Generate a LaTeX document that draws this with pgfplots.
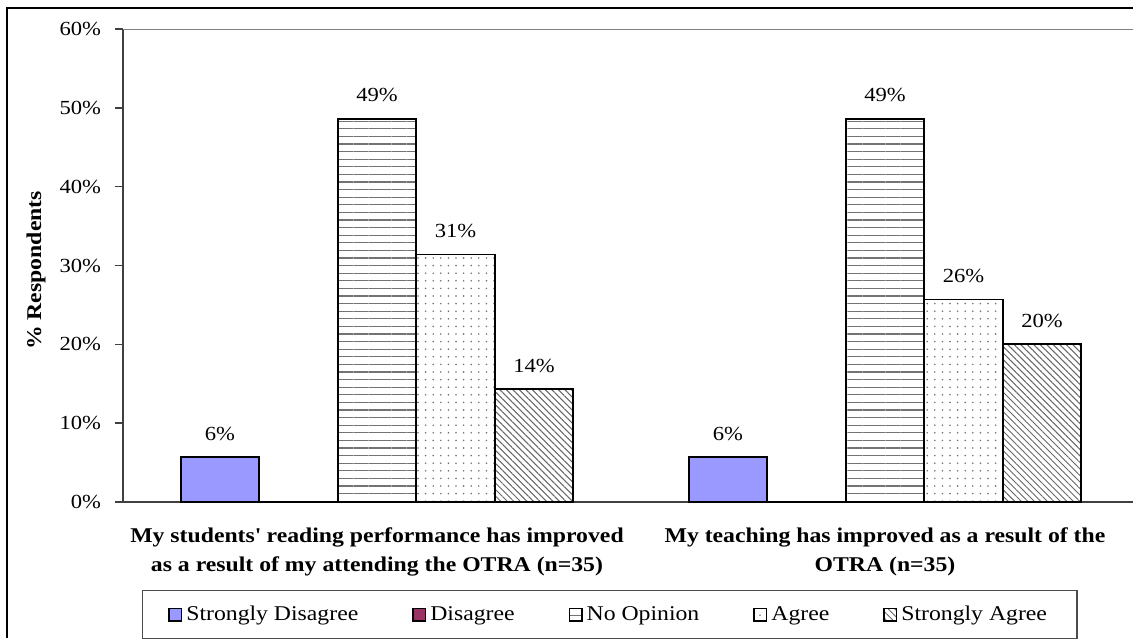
\documentclass[border=0pt]{standalone}
\usepackage{fontspec}
\setmainfont{Liberation Serif}[FakeStretch=1.13]
\usepackage{pgfplots}
\usepackage{pgfplotstable}
\pgfplotsset{compat=1.18}
\usetikzlibrary{patterns,patterns.meta}

\definecolor{sdblue}{HTML}{9999FF}
\definecolor{dmaroon}{HTML}{993366}

% survey answers, % of respondents (n=35)
\pgfplotstableread{
cat SD  D  NO   A    SA
0   5.7 0  48.6 31.4 14.3
1   5.7 0  48.6 25.7 20.0
}\resp

\begin{document}
\begin{tikzpicture}
\begin{axis}[
  at={(0pt,0pt)}, anchor=south west,
  scale only axis, width=508pt, height=236.5pt,
  ybar=0pt, bar width=39.25pt,
  xmin=-0.5, xmax=1.5, ymin=0, ymax=60,
  axis x line*=bottom, axis y line*=left,
  axis line style={draw=black!75, line width=0.8pt},
  tick align=outside, major tick length=4pt,
  tick style={draw=black!75, line width=0.8pt},
  xtick={0,1}, xtick style={draw=none},
  xticklabels={{My students\textquotesingle{} reading performance has improved\\as a result of my attending the OTRA (n=35)},
               {My teaching has improved as a result of the\\OTRA (n=35)}},
  x tick label style={font=\fontsize{10.5}{14.5}\selectfont\bfseries, align=center, yshift=-5.5pt},
  ytick={0,10,...,60},
  yticklabel={\pgfmathprintnumber{\tick}\%},
  y tick label style={font=\fontsize{10}{11}\selectfont, xshift=-3.5pt},
  /pgf/number format/assume math mode=true,
  ylabel={\% Respondents},
  every axis y label/.style={at={(rel axis cs:-0.0856,0.4894)}, rotate=90, anchor=center,
                              font=\fontsize{10.5}{12}\selectfont\bfseries},
  every node near coord/.append style={font=\fontsize{10}{11}\selectfont, yshift=4.6pt, black},
  legend image code/.code={\draw[#1,line width=0.6pt] (0pt,-3.2pt) rectangle (6.4pt,3.2pt);},
  legend columns=5, legend cell align=left,
  legend style={at={(0.479,-0.238)}, anchor=center, draw=black!70, line width=0.6pt,
                font=\fontsize{10.5}{12}\selectfont, inner xsep=13pt, inner ysep=5.5pt,
                /tikz/every even column/.append style={column sep=25pt}},
]
\addplot[fill=sdblue, draw=black, line width=0.9pt,
  nodes near coords={\pgfmathprintnumber[fixed,precision=0]{\pgfplotspointmeta}\%}] table[x=cat,y=SD]{\resp};
\addplot[fill=dmaroon, draw=black, line width=0.9pt] table[x=cat,y=D]{\resp};
\addplot[draw=black, line width=0.9pt, pattern={Lines[angle=0,distance=3.8pt,line width=0.6pt]}, pattern color=black!55,
  nodes near coords={\pgfmathprintnumber[fixed,precision=0]{\pgfplotspointmeta}\%}] table[x=cat,y=NO]{\resp};
\addplot[draw=black, line width=0.9pt, pattern={Dots[distance=3.8pt,radius=0.45pt]}, pattern color=black!55,
  nodes near coords={\pgfmathprintnumber[fixed,precision=0]{\pgfplotspointmeta}\%}] table[x=cat,y=A]{\resp};
\addplot[draw=black, line width=0.9pt, pattern={Lines[angle=-45,distance=2.3pt,line width=0.5pt]}, pattern color=black!60,
  nodes near coords={\pgfmathprintnumber[fixed,precision=0]{\pgfplotspointmeta}\%}] table[x=cat,y=SA]{\resp};
\legend{Strongly Disagree, Disagree, No Opinion, Agree, Strongly Agree}
% top border of the plot area and the divider tick between the two questions
\draw[black!50, line width=0.9pt] (rel axis cs:0,1) -- (rel axis cs:1,1);
\draw[black!75, line width=0.8pt] (axis cs:0.5,0) -- ++(0pt,-4pt);
\end{axis}
\draw[line width=0.8pt] (-58pt,-68pt) -- (-58pt,247pt) -- (505pt,247pt);
\pgfresetboundingbox
\useasboundingbox (-61.5pt,-68pt) rectangle (505pt,251pt);
\end{tikzpicture}
\end{document}
